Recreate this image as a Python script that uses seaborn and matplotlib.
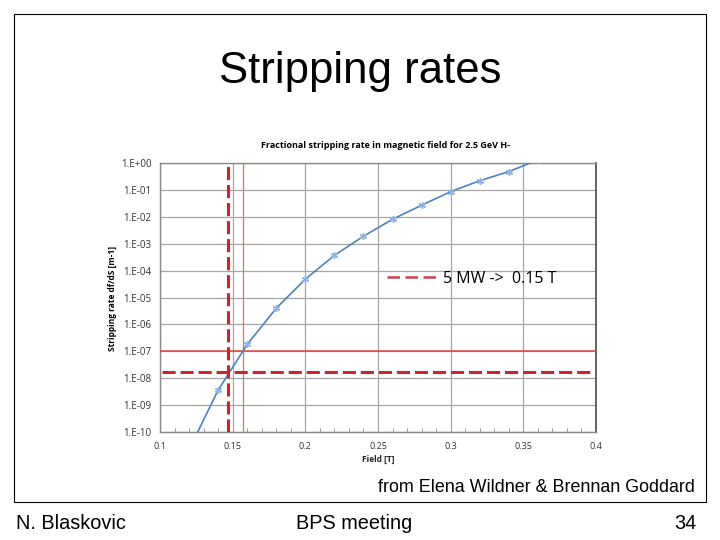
import numpy as np
import pandas as pd
import matplotlib
matplotlib.use("Agg")
import matplotlib.pyplot as plt
import matplotlib.ticker as mticker
from matplotlib.patches import Rectangle
from matplotlib.lines import Line2D
import seaborn as sns

# values
field = [0.12, 0.14, 0.16, 0.18, 0.20, 0.22, 0.24, 0.26, 0.28, 0.30, 0.32, 0.34, 0.36]
rate = [2.2e-11, 3.6e-9, 1.8e-7, 4.0e-6, 4.8e-5, 3.7e-4, 1.9e-3, 8.1e-3,
        2.7e-2, 8.6e-2, 0.22, 0.48, 1.3]
y_ticks = [1e0, 1e-1, 1e-2, 1e-3, 1e-4, 1e-5, 1e-6, 1e-7, 1e-8, 1e-9, 1e-10]
y_tick_labels = ["1.E+00", "1.E-01", "1.E-02", "1.E-03", "1.E-04", "1.E-05",
                 "1.E-06", "1.E-07", "1.E-08", "1.E-09", "1.E-10"]
x_ticks = [0.1, 0.15, 0.2, 0.25, 0.3, 0.35, 0.4]
x_tick_labels = ["0.1", "0.15", "0.2", "0.25", "0.3", "0.35", "0.4"]
field_5mw = 0.1466      # dashed vertical
rate_5mw = 1.75e-8      # dashed horizontal
field_ref = 0.1573      # thin solid vertical
rate_ref = 1e-7         # solid horizontal

df = pd.DataFrame({"field": field, "rate": rate})

sns.set_style("white")
plt.rcParams["font.family"] = ["Liberation Sans", "DejaVu Sans"]
plt.rcParams["text.color"] = "black"

fig = plt.figure(figsize=(7.2, 5.4), dpi=100)
ax = fig.add_axes([0.2222, 0.2, 0.6056, 0.4981])

sns.lineplot(data=df, x="field", y="rate", ax=ax, color="#4f81bd", lw=1.2,
             marker=(6, 2, 0), markersize=5, markeredgecolor="#8fb4e0",
             markeredgewidth=1.0, zorder=4)

ax.set_yscale("log")
ax.set_xlim(0.1, 0.4)
ax.set_ylim(1e-10, 1)
ax.set_xticks(x_ticks)
ax.set_xticklabels(x_tick_labels, fontsize=6.5, color="#333333", family="Open Sans")
ax.set_yticks(y_ticks)
ax.set_yticklabels(y_tick_labels, fontsize=7, color="#333333", family="Open Sans")
ax.yaxis.set_minor_locator(mticker.NullLocator())
ax.xaxis.set_minor_locator(mticker.MultipleLocator(0.01))
ax.tick_params(axis="x", which="minor", length=3, direction="in", color="#888888", bottom=True)
ax.tick_params(axis="x", which="major", length=0, pad=7)
ax.tick_params(axis="y", which="major", length=0, pad=6)
ax.grid(True, which="major", color="#a6a6a6", lw=0.9)

for side in ["left", "bottom", "top"]:
    ax.spines[side].set_color("#8a8a8a")
    ax.spines[side].set_linewidth(1.0)
ax.spines["right"].set_color("#555555")
ax.spines["right"].set_linewidth(1.3)

# reference lines
ax.axhline(rate_ref, color="#e0473c", lw=1.1, zorder=3)
ax.axvline(field_ref, color="#ee6a60", lw=0.9, zorder=3)
ax.axhline(rate_5mw, xmin=0.005, xmax=0.995, color="#c8262d", lw=2.2,
           dashes=(4.3, 1.6), zorder=5)
ax.axvline(field_5mw, color="#c8262d", lw=2.2, dashes=(4.3, 1.6), zorder=5)

key = Line2D([], [], color="#d0404a", lw=1.8, dashes=(5, 2.2))
ax.legend([key], ["5 MW ->  0.15 T"], loc="center left", bbox_to_anchor=(0.521, 0.569),
          frameon=False, handlelength=3.3, handletextpad=0.2,
          borderpad=0, borderaxespad=0, prop={"family": "Open Sans", "size": 11.5})

ax.set_xlabel("Field [T]", fontsize=6, fontweight="bold", family="Open Sans", labelpad=3)
ax.set_ylabel("")
fig.text(0.156, 0.448, "Stripping rate df/dS [m-1]", rotation=90, ha="center",
         va="center", fontsize=6, fontweight="bold", family="Open Sans")
fig.text(0.535, 0.731, "Fractional stripping rate in magnetic field for 2.5 GeV H-",
         ha="center", va="center", fontsize=6.5, fontweight="bold", family="Open Sans")

# slide frame and texts
fig.patches.append(Rectangle((0.0194, 0.0704), 0.961, 0.9037, transform=fig.transFigure,
                             fill=False, edgecolor="black", lw=0.8))
fig.text(0.5, 0.868, "Stripping rates", ha="center", va="center", fontsize=31.5)
fig.text(0.965, 0.098, "from Elena Wildner & Brennan Goddard", ha="right",
         va="center", fontsize=12.9)
fig.text(0.022, 0.031, "N. Blaskovic", ha="left", va="center", fontsize=14.3)
fig.text(0.492, 0.031, "BPS meeting", ha="center", va="center", fontsize=14.3)
fig.text(0.968, 0.031, "34", ha="right", va="center", fontsize=14.3)

fig.savefig("out.png", dpi=100)
